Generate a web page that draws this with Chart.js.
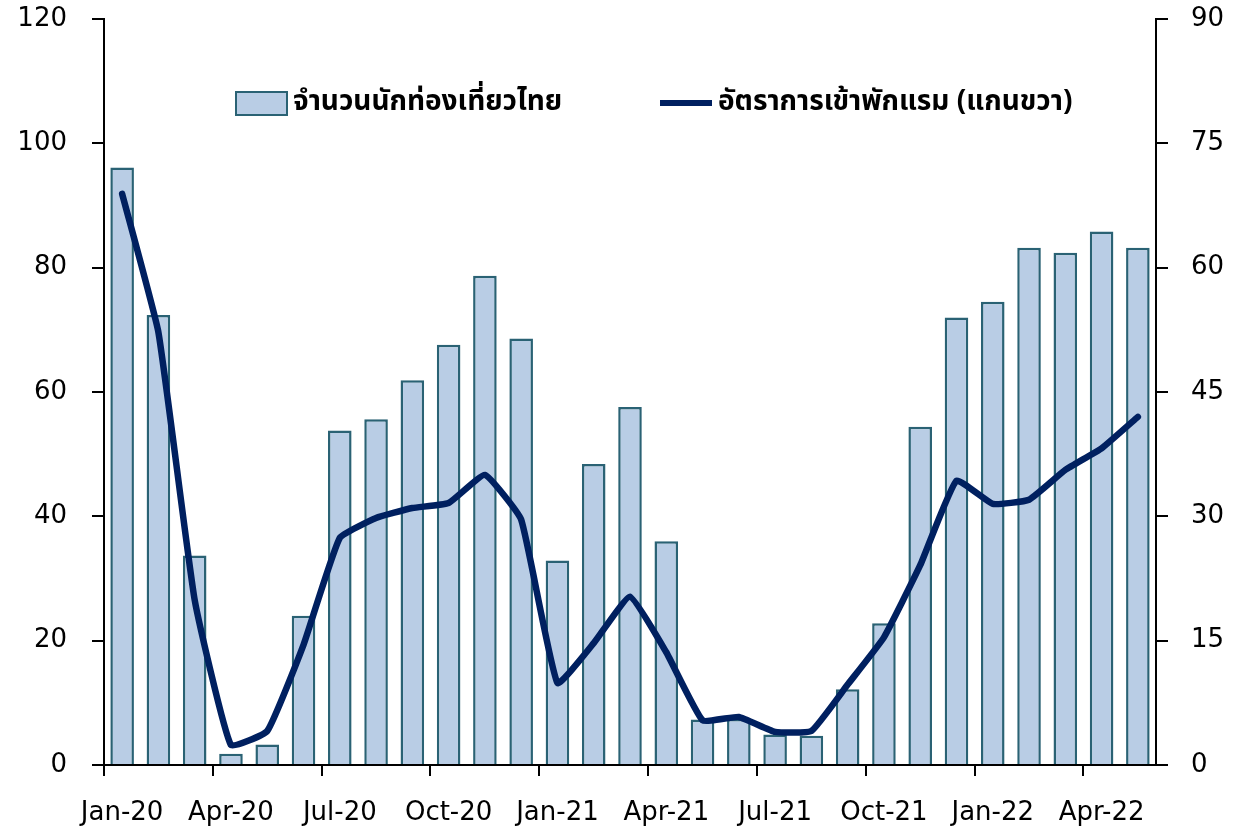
<!DOCTYPE html>
<html>
<head>
<meta charset="utf-8">
<script src="https://cdn.jsdelivr.net/npm/chart.js@4"></script>
<style>
html,body{margin:0;padding:0;background:#fff;}
#wrap{width:1244px;height:829px;position:relative;}
</style>
</head>
<body>
<div id="wrap"><canvas id="c" width="1244" height="829"></canvas></div>
<script>
const months = ["Jan-20","Feb-20","Mar-20","Apr-20","May-20","Jun-20","Jul-20","Aug-20","Sep-20","Oct-20","Nov-20","Dec-20",
  "Jan-21","Feb-21","Mar-21","Apr-21","May-21","Jun-21","Jul-21","Aug-21","Sep-21","Oct-21","Nov-21","Dec-21",
  "Jan-22","Feb-22","Mar-22","Apr-22","May-22"];
const thaiTourists = [96.1,72.4,33.7,1.8,3.3,24.0,53.8,55.6,61.9,67.6,78.7,68.6,32.9,48.4,57.6,36.0,7.3,7.4,4.9,4.7,12.2,22.8,54.4,72.0,74.5,83.2,82.4,85.8,83.2];
const occupancyRate = [68.9,52.2,19.9,2.4,4.1,14.5,27.4,29.8,31.0,31.6,35.0,29.6,9.9,14.7,20.3,13.6,5.4,5.8,4.0,4.1,9.7,15.4,24.1,34.3,31.5,32.0,35.6,38.2,42.0];
const seriesNames = ["จำนวนนักท่องเที่ยวไทย","อัตราการเข้าพักแรม (แกนขวา)"];
const leftTicks = [0,20,40,60,80,100,120];
const rightTicks = [0,15,30,45,60,75,90];

const BAR_FILL = "#b9cde5";
const BAR_BORDER = "#2a6274";
const LINE_COLOR = "#002060";
const TICK_FONT = {family:"'DejaVu Sans', 'Noto Sans', sans-serif", size:26, weight:"normal"};
const THAI_FONT = "bold 28px 'Noto Sans Thai', 'Noto Sans Thai Looped', Loma, Garuda, 'Tlwg Typo', 'Noto Sans', 'DejaVu Sans', sans-serif";

const legendPlugin = {
  id: "customLegend",
  afterDraw(chart) {
    const ctx = chart.ctx;
    ctx.save();
    ctx.fillStyle = BAR_FILL;
    ctx.fillRect(236, 92, 51, 23);
    ctx.strokeStyle = BAR_BORDER;
    ctx.lineWidth = 2;
    ctx.strokeRect(236, 92, 51, 23);
    ctx.font = THAI_FONT;
    ctx.fillStyle = "#000";
    ctx.textBaseline = "middle";
    ctx.textAlign = "left";
    ctx.fillText(seriesNames[0], 293, 104);
    ctx.strokeStyle = LINE_COLOR;
    ctx.lineWidth = 6;
    ctx.lineCap = "butt";
    ctx.beginPath();
    ctx.moveTo(660, 103);
    ctx.lineTo(712, 103);
    ctx.stroke();
    ctx.fillText(seriesNames[1], 718, 104);
    ctx.restore();
  }
};

function fitY(width) {
  return function (s) { s.width = width; s.paddingTop = 19; s.paddingBottom = 0; };
}

new Chart(document.getElementById("c"), {
  data: {
    labels: months,
    datasets: [
      {
        type: "bar",
        label: seriesNames[0],
        data: thaiTourists,
        yAxisID: "y",
        backgroundColor: BAR_FILL,
        borderColor: BAR_BORDER,
        borderWidth: 2.5,
        barPercentage: 0.65,
        categoryPercentage: 1.0,
        order: 1
      },
      {
        type: "line",
        label: seriesNames[1],
        data: occupancyRate,
        yAxisID: "y1",
        borderColor: LINE_COLOR,
        backgroundColor: LINE_COLOR,
        borderWidth: 6.5,
        pointRadius: 0,
        tension: 0.12,
        borderJoinStyle: "round",
        borderCapStyle: "round",
        order: 0
      }
    ]
  },
  options: {
    responsive: false,
    animation: false,
    layout: {padding: {top: 0, left: 0, right: 0, bottom: 0}},
    plugins: {legend: {display: false}, tooltip: {enabled: false}},
    scales: {
      x: {
        type: "category",
        offset: true,
        afterFit(s) { s.height = 64; s.paddingLeft = 0; s.paddingRight = 0; },
        border: {display: true, color: "#000", width: 2},
        grid: {
          display: true, offset: true, drawOnChartArea: false, drawTicks: true, tickLength: 11, lineWidth: 2,
          color: (c) => (c.index % 3 === 0 ? "#000" : "rgba(0,0,0,0)")
        },
        ticks: {
          autoSkip: false, maxRotation: 0, minRotation: 0, padding: 22,
          color: "#000", font: TICK_FONT,
          callback(v, i) { return i % 3 === 0 ? this.getLabelForValue(v) : ""; }
        }
      },
      y: {
        position: "left",
        min: 0, max: 120,
        afterFit: fitY(104),
        afterBuildTicks(s) { s.ticks = leftTicks.map(v => ({value: v})); },
        border: {display: true, color: "#000", width: 2},
        grid: {display: true, drawOnChartArea: false, drawTicks: true, tickLength: 12, color: "#000", lineWidth: 2},
        ticks: {padding: 25, color: "#000", font: TICK_FONT}
      },
      y1: {
        position: "right",
        min: 0, max: 90,
        afterFit: fitY(88),
        afterBuildTicks(s) { s.ticks = rightTicks.map(v => ({value: v})); },
        border: {display: true, color: "#000", width: 2},
        grid: {display: true, drawOnChartArea: false, drawTicks: true, tickLength: 12, color: "#000", lineWidth: 2},
        ticks: {padding: 23, color: "#000", font: TICK_FONT}
      }
    }
  },
  plugins: [legendPlugin]
});
</script>
</body>
</html>
